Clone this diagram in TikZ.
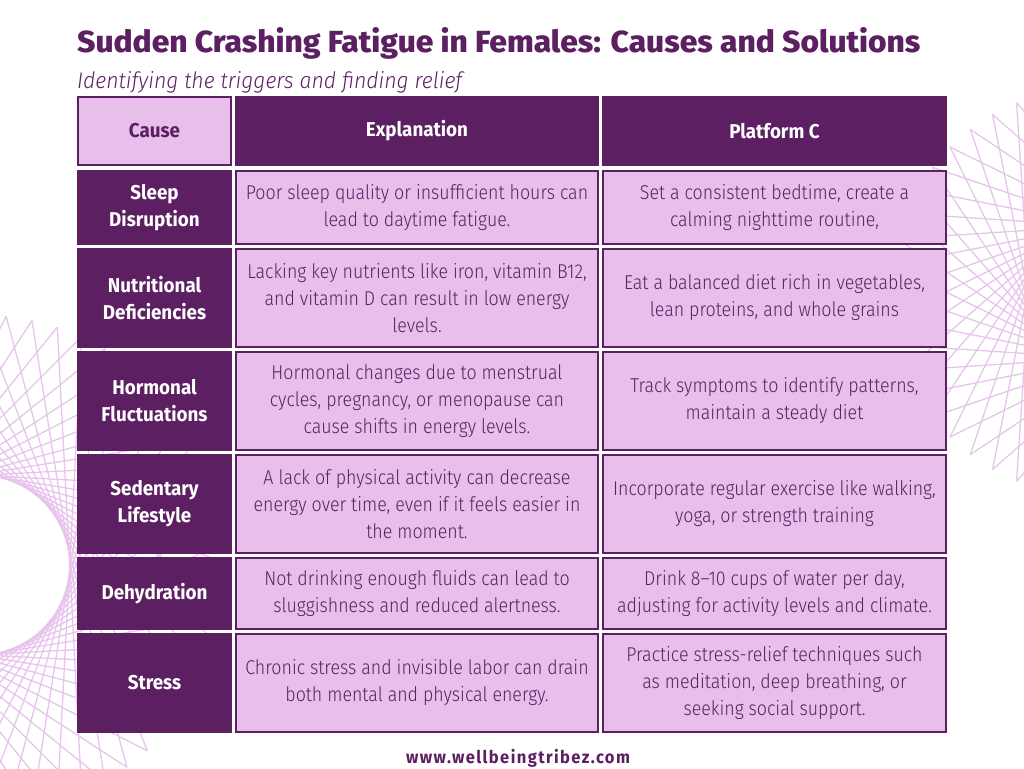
\documentclass[tikz,border=0pt]{standalone}
\usepackage{fontspec}
\usepackage{graphicx}
\setmainfont{Fira Sans}
\newfontfamily\lightfont{Fira Sans Light}[FakeStretch=0.89]
\newfontfamily\subfont{Fira Sans Light Italic}[FakeStretch=0.85]
\newfontfamily\boldfont{Fira Sans Bold}[FakeStretch=0.94]
\newfontfamily\heavyfont{Fira Sans ExtraBold}
\definecolor{plum}{HTML}{5C1F62}
\definecolor{lilac}{HTML}{E8BEEB}
\definecolor{meshcol}{HTML}{E7C4EC}

\tikzset{
  darkcell/.style={fill=plum, text=white, align=center, inner sep=0pt,
    font=\boldfont\fontsize{20}{27}\selectfont},
  lightcell/.style={fill=lilac, draw=plum, line width=2pt, text=plum, align=center, inner sep=0pt,
    font=\lightfont\fontsize{20}{27}\selectfont},
  meshline/.style={draw=meshcol, line width=1.3pt}
}

\begin{document}
\begin{tikzpicture}[x=1pt, y=-1pt]

\useasboundingbox (0,0) rectangle (1024,768);

% background string art
\begin{scope}
\clip (0,0) rectangle (1024,768);
\begin{scope}[shift={(-20,565)}]
\foreach \k in {0,...,59}
  \draw[meshline] (\k*6:250) -- (\k*6+138:250);
\end{scope}
\begin{scope}[shift={(1095,292)}]
\foreach \k in {0,...,47}
  \draw[meshline] (\k*7.5:205) -- (\k*7.5+142.5:205);
\end{scope}
\end{scope}

% title
\node[anchor=base west, inner sep=0pt, text=plum] (title) at (77,53)
  {\resizebox{843pt}{25pt}{\heavyfont Sudden Crashing Fatigue in Females: Causes and Solutions}};
\node[anchor=base west, inner sep=0pt, text=plum] (subtitle) at (77,88)
  {\resizebox{385pt}{17pt}{\subfont\fontsize{23}{23}\selectfont Identifying the triggers and finding relief}};

% header row
\node[lightcell, font=\boldfont\fontsize{20}{27}\selectfont, minimum width=153, minimum height=68] (cause) at (154.5,131) {Cause};
\node[darkcell, minimum width=364, minimum height=70] (expl) at (417,131) {Explanation};
\node[darkcell, minimum width=345, minimum height=70] (fix) at (774.5,131) {Platform C};

% sleep
\node[darkcell, minimum width=155, minimum height=75] (sleep) at (154.5,207.5) {Sleep\\Disruption};
\node[lightcell, minimum width=362, minimum height=73] (sleepinfo) at (417,207.5)
  {Poor sleep quality or insufficient hours can\\lead to daytime fatigue.};
\node[lightcell, minimum width=343, minimum height=73] (sleepfix) at (774.5,207.5)
  {Set a consistent bedtime, create a\\calming nighttime routine,};

% nutrition
\node[darkcell, minimum width=155, minimum height=100] (food) at (154.5,298) {Nutritional\\Deficiencies};
\node[lightcell, minimum width=362, minimum height=98] (foodinfo) at (417,298)
  {Lacking key nutrients like iron, vitamin B12,\\and vitamin D can result in low energy\\levels.};
\node[lightcell, minimum width=343, minimum height=98] (foodfix) at (774.5,298)
  {Eat a balanced diet rich in vegetables,\\lean proteins, and whole grains};

% hormones
\node[darkcell, minimum width=155, minimum height=100] (horm) at (154.5,401) {Hormonal\\Fluctuations};
\node[lightcell, minimum width=362, minimum height=98] (horminfo) at (417,401)
  {Hormonal changes due to menstrual\\cycles, pregnancy, or menopause can\\cause shifts in energy levels.};
\node[lightcell, minimum width=343, minimum height=98] (hormfix) at (774.5,401)
  {Track symptoms to identify patterns,\\maintain a steady diet};

% sedentary
\node[darkcell, minimum width=155, minimum height=100] (sit) at (154.5,504) {Sedentary\\Lifestyle};
\node[lightcell, minimum width=362, minimum height=98] (sitinfo) at (417,504)
  {A lack of physical activity can decrease\\energy over time, even if it feels easier in\\the moment.};
\node[lightcell, minimum width=343, minimum height=98] (sitfix) at (774.5,504)
  {Incorporate regular exercise like walking,\\yoga, or strength training};

% water
\node[darkcell, minimum width=155, minimum height=73] (water) at (154.5,593.5) {Dehydration};
\node[lightcell, minimum width=362, minimum height=71] (waterinfo) at (417,593.5)
  {Not drinking enough fluids can lead to\\sluggishness and reduced alertness.};
\node[lightcell, minimum width=343, minimum height=71] (waterfix) at (774.5,593.5)
  {Drink 8–10 cups of water per day,\\adjusting for activity levels and climate.};

% stress
\node[darkcell, minimum width=155, minimum height=100] (stress) at (154.5,683) {Stress};
\node[lightcell, minimum width=362, minimum height=98] (stressinfo) at (417,683)
  {Chronic stress and invisible labor can drain\\both mental and physical energy.};
\node[lightcell, minimum width=343, minimum height=98] (stressfix) at (774.5,683)
  {Practice stress-relief techniques such\\as meditation, deep breathing, or\\seeking social support.};

% footer
\node[anchor=base, inner sep=0pt, text=plum] (site) at (518,763)
  {\resizebox{224pt}{!}{\boldfont\addfontfeature{LetterSpace=8}www.wellbeingtribez.com}};

\end{tikzpicture}
\end{document}
